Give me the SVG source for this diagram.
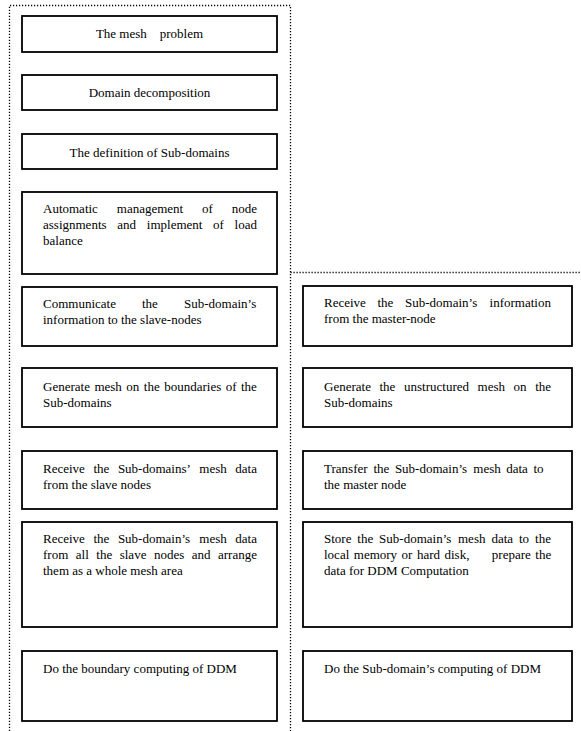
<svg xmlns="http://www.w3.org/2000/svg" width="581" height="731" viewBox="0 0 581 731">
<style>
.box{fill:#fff;stroke:#000;stroke-width:1.8}
.dot{fill:none;stroke:#000;stroke-width:1.3;stroke-dasharray:1.2 1.8}
text{font-family:"Liberation Serif","Times New Roman",serif;font-size:13px;fill:#000}
.c{text-anchor:middle}
</style>
<rect width="581" height="731" fill="#fff"/>
<g id="frames">
<path class="dot" d="M9.5,731 V5.5 H290.5 V731"/>
<path class="dot" d="M290.5,272.5 H581"/>
</g>
<g id="connectors"></g>
<g id="n1"><rect class="box" x="22" y="16" width="255" height="36"/><text class="c" x="149.5" y="38" xml:space="preserve">The mesh    problem</text></g>
<g id="n2"><rect class="box" x="22" y="75" width="255" height="35"/><text class="c" x="149.5" y="97">Domain decomposition</text></g>
<g id="n3"><rect class="box" x="22" y="134" width="255" height="35"/><text class="c" x="149.5" y="157">The definition of Sub-domains</text></g>
<g id="n4"><rect class="box" x="22" y="192" width="255" height="82"/>
<text y="213"><tspan x="43">Automatic</tspan><tspan x="116.8">management</tspan><tspan x="202.1">of</tspan><tspan x="231.8">node</tspan></text>
<text y="229"><tspan x="43">assignments</tspan><tspan x="117.3">and</tspan><tspan x="146.8">implement</tspan><tspan x="213.1">of</tspan><tspan x="234.6">load</tspan></text>
<text x="43" y="245">balance</text></g>
<g id="n5"><rect class="box" x="22" y="287" width="255" height="59"/>
<text y="308"><tspan x="43">Communicate</tspan><tspan x="142">the</tspan><tspan x="184">Sub-domain’s</tspan></text>
<text x="43" y="324">information to the slave-nodes</text></g>
<g id="n6"><rect class="box" x="22" y="368" width="255" height="59"/>
<text y="391"><tspan x="43">Generate</tspan><tspan x="94.4">mesh</tspan><tspan x="126.3">on</tspan><tspan x="143.8">the</tspan><tspan x="164.2">boundaries</tspan><tspan x="225.7">of</tspan><tspan x="241">the</tspan></text>
<text x="43" y="407">Sub-domains</text></g>
<g id="n7"><rect class="box" x="22" y="451" width="255" height="58"/>
<text y="473"><tspan x="43">Receive</tspan><tspan x="93.4">the</tspan><tspan x="117.9">Sub-domains’</tspan><tspan x="199.3">mesh</tspan><tspan x="235.3">data</tspan></text>
<text x="43" y="489">from the slave nodes</text></g>
<g id="n8"><rect class="box" x="22" y="522" width="255" height="105"/>
<text y="543"><tspan x="43">Receive</tspan><tspan x="93.4">the</tspan><tspan x="117.9">Sub-domain’s</tspan><tspan x="199.3">mesh</tspan><tspan x="235.3">data</tspan></text>
<text y="559"><tspan x="43">from</tspan><tspan x="75.8">all</tspan><tspan x="96.3">the</tspan><tspan x="119.7">slave</tspan><tspan x="153.9">nodes</tspan><tspan x="191.7">and</tspan><tspan x="218">arrange</tspan></text>
<text x="43" y="575">them as a whole mesh area</text></g>
<g id="n9"><rect class="box" x="22" y="651" width="255" height="70"/>
<text x="43" y="673">Do the boundary computing of DDM</text></g>
<g id="r1"><rect class="box" x="303" y="286" width="269" height="60"/>
<text y="307"><tspan x="324">Receive</tspan><tspan x="377.5">the</tspan><tspan x="405">Sub-domain’s</tspan><tspan x="489.6">information</tspan></text>
<text x="324" y="323">from the master-node</text></g>
<g id="r2"><rect class="box" x="303" y="368" width="269" height="59"/>
<text y="391"><tspan x="324">Generate</tspan><tspan x="379.5">the</tspan><tspan x="404">unstructured</tspan><tspan x="477.6">mesh</tspan><tspan x="513.6">on</tspan><tspan x="535.2">the</tspan></text>
<text x="324" y="407">Sub-domains</text></g>
<g id="r3"><rect class="box" x="303" y="451" width="269" height="58"/>
<text y="473"><tspan x="324">Transfer</tspan><tspan x="373.5">the</tspan><tspan x="394.9">Sub-domain’s</tspan><tspan x="473.3">mesh</tspan><tspan x="506.2">data</tspan><tspan x="533.4">to</tspan></text>
<text x="324" y="489">the master node</text></g>
<g id="r4"><rect class="box" x="303" y="522" width="269" height="105"/>
<text y="543"><tspan x="324">Store</tspan><tspan x="357.3">the</tspan><tspan x="379.1">Sub-domain’s</tspan><tspan x="458">mesh</tspan><tspan x="491.4">data</tspan><tspan x="519">to</tspan><tspan x="535.1">the</tspan></text>
<text y="559"><tspan x="324">local</tspan><tspan x="353.8">memory</tspan><tspan x="401.6">or</tspan><tspan x="416.9">hard</tspan><tspan x="444.5">disk,</tspan><tspan x="491.8">prepare</tspan><tspan x="535.3">the</tspan></text>
<text x="324" y="575">data for DDM Computation</text></g>
<g id="r5"><rect class="box" x="303" y="651" width="269" height="70"/>
<text x="324" y="673">Do the Sub-domain’s computing of DDM</text></g>
</svg>
